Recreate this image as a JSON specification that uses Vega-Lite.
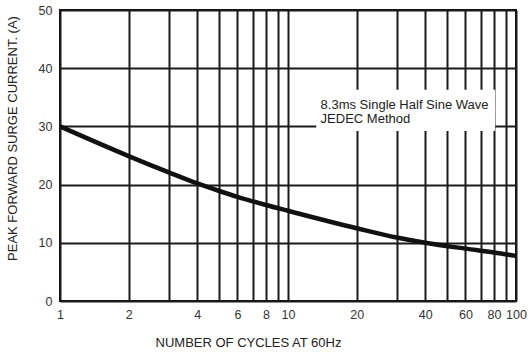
{
  "$schema": "https://vega.github.io/schema/vega-lite/v6.json",
  "width": 456,
  "height": 291,
  "autosize": {"type": "none"},
  "padding": {"left": 60, "top": 10, "right": 16, "bottom": 51},
  "background": "white",
  "config": {
    "font": "Liberation Sans",
    "view": {"stroke": "#111", "strokeWidth": 2},
    "axis": {"grid": true, "gridColor": "#1a1a1a", "gridWidth": 2, "gridOpacity": 1, "ticks": false, "domain": false, "labelFont": "Liberation Sans", "labelFontSize": 12.5, "labelColor": "#333", "titleFont": "Liberation Sans", "titleFontSize": 13, "titleFontWeight": "normal", "titleColor": "#222"}
  },
  "datasets": {
    "curve": [
      {"cycles": 1, "current": 30},
      {"cycles": 2, "current": 24.9},
      {"cycles": 3, "current": 22.1},
      {"cycles": 4, "current": 20.2},
      {"cycles": 5, "current": 18.9},
      {"cycles": 6, "current": 17.9},
      {"cycles": 8, "current": 16.5},
      {"cycles": 10, "current": 15.5},
      {"cycles": 20, "current": 12.5},
      {"cycles": 30, "current": 10.9},
      {"cycles": 40, "current": 10.0},
      {"cycles": 60, "current": 9.0},
      {"cycles": 80, "current": 8.35},
      {"cycles": 100, "current": 7.75}
    ],
    "box": [{"x1": 13.3, "x2": 81, "y1": 29.2, "y2": 36.3}],
    "note": [
      {"x": 13.9, "y": 33.7, "label": "8.3ms Single Half Sine Wave"},
      {"x": 13.9, "y": 31.2, "label": "JEDEC Method"}
    ]
  },
  "layer": [
    {
      "data": {"name": "box"},
      "mark": {"type": "rect", "fill": "white"},
      "encoding": {
        "x": {"field": "x1", "type": "quantitative", "scale": {"type": "log", "domain": [1, 100]},
          "axis": {"title": "NUMBER OF CYCLES AT 60Hz", "titleX": 188, "titleY": 41, "titleBaseline": "middle", "titleAlign": "center", "labelPadding": 7,
            "values": [1,2,3,4,5,6,7,8,9,10,20,30,40,50,60,70,80,90,100],
            "labelExpr": "indexof([1,2,4,6,8,10,20,40,60,80,100], datum.value) >= 0 ? datum.label : ''",
            "labelFlush": false, "labelOverlap": false}},
        "x2": {"field": "x2"},
        "y": {"field": "y1", "type": "quantitative", "scale": {"domain": [0, 50]},
          "axis": {"title": "PEAK FORWARD SURGE CURRENT. (A)", "values": [0,10,20,30,40,50], "labelPadding": 8, "titleX": -48, "titleY": 128, "titleBaseline": "middle", "titleAlign": "center", "titleAngle": -90}},
        "y2": {"field": "y2"}
      }
    },
    {
      "data": {"name": "note"},
      "mark": {"type": "text", "align": "left", "baseline": "middle", "fontSize": 13, "color": "#222", "font": "Liberation Sans"},
      "encoding": {
        "x": {"field": "x", "type": "quantitative"},
        "y": {"field": "y", "type": "quantitative"},
        "text": {"field": "label"}
      }
    },
    {
      "data": {"name": "curve"},
      "mark": {"type": "line", "color": "#111", "strokeWidth": 4.5, "interpolate": "monotone"},
      "encoding": {
        "x": {"field": "cycles", "type": "quantitative"},
        "y": {"field": "current", "type": "quantitative"}
      }
    }
  ]
}
